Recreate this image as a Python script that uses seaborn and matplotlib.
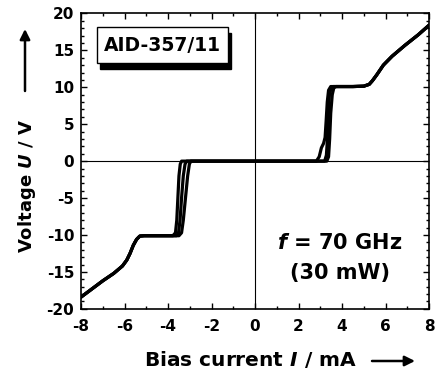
import numpy as np
import pandas as pd
import matplotlib
matplotlib.use("Agg")
import matplotlib.pyplot as plt
import seaborn as sns
from matplotlib.patches import Rectangle, FancyArrowPatch

# ── data ───────────────────────────────────────────────────────────────────
# shared outer branches (I in mA, U in V)
neg_tail_i = [-8.0, -7.5, -7.0, -6.5, -6.1, -5.9, -5.75, -5.6, -5.45, -5.3, -5.1, -4.5, -3.9]
neg_tail_v = [-18.4, -17.3, -16.2, -15.2, -14.2, -13.4, -12.5, -11.4, -10.6, -10.15, -10.1, -10.1, -10.1]
pos_tail_i = [3.8, 4.5, 5.0, 5.25, 5.4, 5.6, 5.9, 6.3, 6.9, 7.5, 8.0]
pos_tail_v = [10.1, 10.1, 10.15, 10.4, 10.9, 11.7, 13.0, 14.2, 15.7, 17.1, 18.4]

# switching steps of three sweeps
neg_step_i = {
    "A": [-3.78, -3.66, -3.6, -3.55, -3.5, -3.44, -3.38],
    "B": [-3.62, -3.52, -3.45, -3.38, -3.3, -3.22, -3.14],
    "C": [-3.5, -3.38, -3.3, -3.2, -3.1, -3.02, -2.95],
}
neg_step_v = [-10.1, -9.7, -8.0, -5.0, -2.0, -0.4, 0.0]
pos_step_i = {
    "A": [2.82, 2.95, 3.05, 3.15, 3.22, 3.27, 3.32, 3.38, 3.48],
    "B": [3.2, 3.28, 3.33, 3.37, 3.42, 3.5, 3.6],
    "C": [3.3, 3.38, 3.43, 3.48, 3.55, 3.62, 3.72],
}
pos_step_v = {
    "A": [0.0, 0.6, 1.8, 2.4, 3.2, 5.5, 8.0, 9.6, 10.1],
    "B": [0.0, 0.8, 3.0, 6.5, 9.0, 9.9, 10.1],
    "C": [0.0, 0.6, 3.0, 6.5, 9.0, 9.9, 10.1],
}

x_ticks = [-8, -6, -4, -2, 0, 2, 4, 6, 8]
y_ticks = [-20, -15, -10, -5, 0, 5, 10, 15, 20]

# ── build table ────────────────────────────────────────────────────────────
frames = []
for s in ["A", "B", "C"]:
    ii = neg_tail_i + neg_step_i[s] + pos_step_i[s] + pos_tail_i
    vv = neg_tail_v + neg_step_v + pos_step_v[s] + pos_tail_v
    frames.append(pd.DataFrame({"I": ii, "U": vv, "sweep": s}))
df = pd.concat(frames, ignore_index=True)

# ── style ──────────────────────────────────────────────────────────────────
sns.set_style("ticks")
plt.rcParams["font.family"] = ["DejaVu Sans"]
plt.rcParams["font.weight"] = "bold"
plt.rcParams["axes.unicode_minus"] = False
plt.rcParams["mathtext.fontset"] = "custom"
plt.rcParams["mathtext.it"] = "DejaVu Sans:bold:italic"
plt.rcParams["mathtext.rm"] = "DejaVu Sans:bold"
for key in ["text.color", "axes.labelcolor", "xtick.color", "ytick.color",
            "axes.edgecolor", "xtick.labelcolor", "ytick.labelcolor"]:
    plt.rcParams[key] = "black"

fig = plt.figure(figsize=(4.36, 3.73), dpi=100)
ax = fig.add_axes([0.186, 0.172, 0.798, 0.792])

ax.axhline(0, color="black", lw=0.8, zorder=1)
ax.axvline(0, color="black", lw=0.8, zorder=1)

sns.lineplot(data=df, x="I", y="U", units="sweep", estimator=None, sort=False,
             color="black", lw=2.3, ax=ax, zorder=3)

ax.set_xlim(-8, 8)
ax.set_ylim(-20, 20)
ax.set_xticks(x_ticks)
ax.set_yticks(y_ticks)
ax.set_xticklabels([str(t) for t in x_ticks], fontsize=11, fontweight="bold")
ax.set_yticklabels([str(t) for t in y_ticks], fontsize=11, fontweight="bold")
ax.set_xticks(np.arange(-8, 9, 1), minor=True)
ax.set_yticks(np.arange(-20, 21, 1), minor=True)
ax.tick_params(which="both", direction="in", top=True, right=True, width=1.0)
ax.tick_params(which="major", length=4)
ax.tick_params(which="minor", length=2.5)
ax.tick_params(axis="x", pad=7)
ax.tick_params(axis="y", pad=5)
ax.set_xlabel("")
ax.set_ylabel("")
for sp in ax.spines.values():
    sp.set_linewidth(1.2)

# sample label box with shadow
ax.add_patch(Rectangle((0.055, 0.812), 0.376, 0.122, transform=ax.transAxes,
                       facecolor="black", edgecolor="black", zorder=4))
ax.add_patch(Rectangle((0.046, 0.832), 0.376, 0.122, transform=ax.transAxes,
                       facecolor="white", edgecolor="black", lw=1.0, zorder=5))
ax.text(0.234, 0.893, "AID-357/11", transform=ax.transAxes, ha="center", va="center",
        fontsize=13.5, fontweight="bold", zorder=6)

ax.text(0.743, 0.223, "$f$ = 70 GHz", transform=ax.transAxes, ha="center", va="center",
        fontsize=15, fontweight="bold")
ax.text(0.745, 0.122, "(30 mW)", transform=ax.transAxes, ha="center", va="center",
        fontsize=15, fontweight="bold")

# axis labels with arrows
W, H = 436.0, 373.0
fig.text(250 / W, 1 - 360 / H, "Bias current $I$ / mA", ha="center", va="center",
         fontsize=14.5, fontweight="bold")
fig.text(27 / W, 1 - 186 / H, "Voltage $U$ / V", ha="center", va="center",
         rotation=90, fontsize=13, fontweight="bold")
arrow = dict(arrowstyle="-|>", lw=1.8, color="black", mutation_scale=15,
             shrinkA=0, shrinkB=0)
fig.add_artist(FancyArrowPatch((372 / W, 1 - 361 / H), (415 / W, 1 - 361 / H),
                               transform=fig.transFigure, **arrow))
fig.add_artist(FancyArrowPatch((25 / W, 1 - 91 / H), (25 / W, 1 - 29 / H),
                               transform=fig.transFigure, **arrow))

fig.savefig("out.png", dpi=100)
